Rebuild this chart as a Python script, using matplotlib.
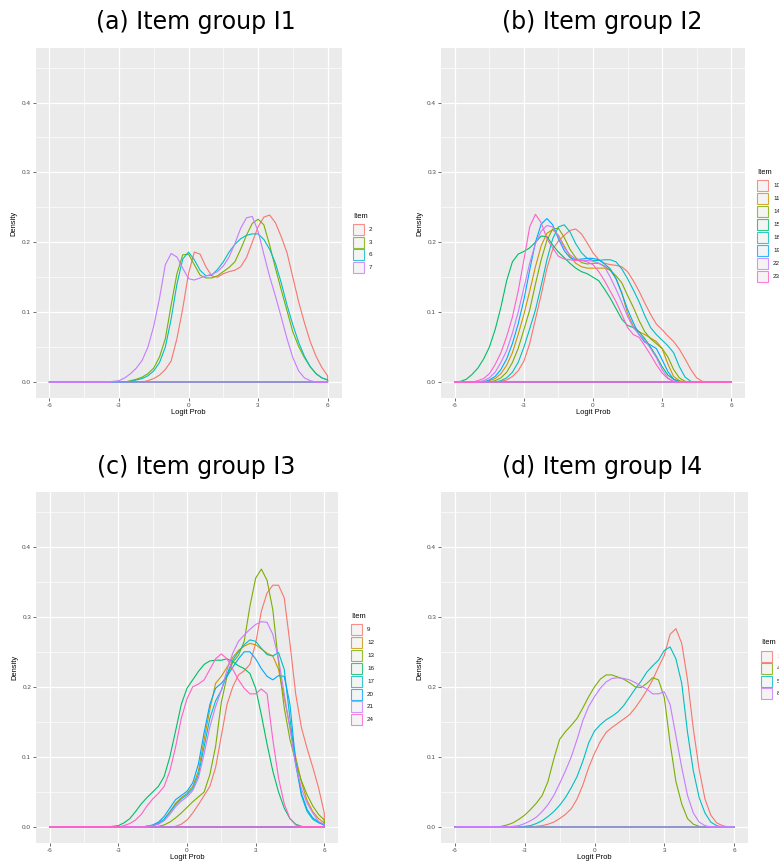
import numpy as np
import matplotlib.pyplot as plt
from matplotlib.patches import Rectangle

W, H = 779, 865
STEP = 0.25

# ---- panel (a): items 2, 3, 6, 7  (start x, densities every 0.25)
a_item2 = (-2.0, [0.0, 0.002, 0.005, 0.01, 0.018, 0.03, 0.062, 0.105, 0.155, 0.186, 0.183, 0.165,
                  0.152, 0.15, 0.155, 0.158, 0.16, 0.165, 0.178, 0.2, 0.222, 0.236, 0.239, 0.228,
                  0.208, 0.185, 0.15, 0.115, 0.085, 0.058, 0.037, 0.021, 0.009])
a_item3 = (-2.5, [0.002, 0.004, 0.007, 0.012, 0.02, 0.036, 0.062, 0.11, 0.155, 0.182, 0.183, 0.168,
                  0.153, 0.149, 0.149, 0.152, 0.158, 0.164, 0.172, 0.19, 0.21, 0.227, 0.233, 0.225,
                  0.196, 0.163, 0.132, 0.102, 0.072, 0.051, 0.035, 0.022, 0.012, 0.006, 0.003])
a_item6 = (-2.5, [0.001, 0.003, 0.005, 0.009, 0.016, 0.028, 0.05, 0.09, 0.14, 0.176, 0.186, 0.175,
                  0.16, 0.152, 0.153, 0.161, 0.172, 0.186, 0.197, 0.205, 0.21, 0.212, 0.212, 0.204,
                  0.19, 0.17, 0.142, 0.11, 0.082, 0.057, 0.037, 0.022, 0.012, 0.006, 0.003])
a_item7 = (-3.5, [0.0, 0.001, 0.002, 0.006, 0.012, 0.02, 0.031, 0.05, 0.08, 0.12, 0.168, 0.184,
                  0.179, 0.163, 0.148, 0.146, 0.149, 0.152, 0.154, 0.158, 0.166, 0.179, 0.198,
                  0.22, 0.235, 0.237, 0.216, 0.183, 0.151, 0.123, 0.093, 0.062, 0.035, 0.016,
                  0.006, 0.002, 0.0])
a_labels = ['2', '3', '6', '7']

# ---- panel (b): items 10, 11, 14, 15, 18, 19, 22, 23
b_item10 = (-4.0, [0.001, 0.003, 0.008, 0.016, 0.03, 0.055, 0.09, 0.125, 0.163, 0.19, 0.202, 0.21,
                   0.217, 0.219, 0.212, 0.199, 0.185, 0.175, 0.17, 0.168, 0.167, 0.165, 0.158,
                   0.145, 0.13, 0.113, 0.097, 0.083, 0.075, 0.066, 0.058, 0.047, 0.033, 0.018,
                   0.006, 0.001])
b_item11 = (-4.5, [0.002, 0.005, 0.012, 0.024, 0.042, 0.068, 0.097, 0.13, 0.165, 0.195, 0.213,
                   0.218, 0.21, 0.195, 0.18, 0.17, 0.165, 0.163, 0.163, 0.163, 0.163, 0.16, 0.148,
                   0.128, 0.098, 0.08, 0.072, 0.068, 0.063, 0.058, 0.048, 0.026, 0.008, 0.002])
b_item14 = (-4.25, [0.002, 0.006, 0.014, 0.028, 0.048, 0.075, 0.103, 0.14, 0.175, 0.203, 0.219,
                    0.22, 0.207, 0.19, 0.178, 0.171, 0.169, 0.17, 0.17, 0.166, 0.16, 0.152, 0.142,
                    0.124, 0.107, 0.088, 0.072, 0.062, 0.055, 0.048, 0.036, 0.018, 0.006, 0.001])
b_item15 = (-5.75, [0.001, 0.004, 0.011, 0.02, 0.033, 0.05, 0.075, 0.107, 0.145, 0.172, 0.183,
                    0.187, 0.192, 0.2, 0.209, 0.208, 0.196, 0.186, 0.178, 0.17, 0.163, 0.158,
                    0.155, 0.15, 0.145, 0.133, 0.12, 0.105, 0.09, 0.081, 0.078, 0.072, 0.062,
                    0.05, 0.037, 0.022, 0.01, 0.004, 0.001])
b_item18 = (-4.0, [0.002, 0.006, 0.014, 0.028, 0.05, 0.076, 0.103, 0.138, 0.175, 0.205, 0.222,
                   0.225, 0.215, 0.198, 0.185, 0.177, 0.174, 0.174, 0.175, 0.175, 0.172, 0.162,
                   0.148, 0.132, 0.115, 0.095, 0.078, 0.068, 0.06, 0.052, 0.042, 0.022, 0.007,
                   0.001])
b_item19 = (-4.5, [0.003, 0.008, 0.018, 0.033, 0.055, 0.083, 0.118, 0.16, 0.2, 0.226, 0.234,
                   0.225, 0.205, 0.188, 0.178, 0.175, 0.176, 0.177, 0.177, 0.175, 0.169, 0.162,
                   0.148, 0.127, 0.104, 0.085, 0.068, 0.057, 0.053, 0.048, 0.032, 0.015, 0.004])
b_item22 = (-4.75, [0.002, 0.006, 0.014, 0.028, 0.045, 0.07, 0.1, 0.135, 0.17, 0.198, 0.216,
                    0.224, 0.222, 0.208, 0.192, 0.182, 0.176, 0.174, 0.174, 0.173, 0.17, 0.165,
                    0.15, 0.133, 0.114, 0.094, 0.078, 0.068, 0.06, 0.048, 0.035, 0.018, 0.006,
                    0.001])
b_item23 = (-5.0, [0.002, 0.005, 0.012, 0.025, 0.042, 0.065, 0.093, 0.13, 0.175, 0.222, 0.24,
                   0.228, 0.205, 0.192, 0.18, 0.176, 0.175, 0.174, 0.174, 0.172, 0.168, 0.158,
                   0.145, 0.13, 0.115, 0.097, 0.078, 0.068, 0.064, 0.052, 0.039, 0.025, 0.013,
                   0.005, 0.001])
b_labels = ['10', '11', '14', '15', '18', '19', '22', '23']

# ---- panel (c): items 9, 12, 13, 16, 17, 20, 21, 24
c_item9 = (-0.75, [0.0, 0.001, 0.004, 0.01, 0.02, 0.032, 0.045, 0.058, 0.085, 0.13, 0.175, 0.2,
                   0.217, 0.223, 0.232, 0.262, 0.308, 0.334, 0.345, 0.345, 0.327, 0.262, 0.19,
                   0.142, 0.112, 0.085, 0.056, 0.02])
c_item12 = (-1.75, [0.001, 0.002, 0.005, 0.011, 0.022, 0.034, 0.042, 0.048, 0.058, 0.08, 0.125,
                    0.168, 0.205, 0.215, 0.228, 0.242, 0.252, 0.258, 0.262, 0.26, 0.254, 0.248,
                    0.244, 0.225, 0.184, 0.143, 0.1, 0.064, 0.038, 0.022, 0.012, 0.006])
c_item13 = (-1.25, [0.001, 0.003, 0.007, 0.013, 0.02, 0.028, 0.036, 0.043, 0.05, 0.075, 0.115,
                    0.178, 0.215, 0.235, 0.245, 0.265, 0.315, 0.355, 0.368, 0.352, 0.31, 0.235,
                    0.17, 0.125, 0.093, 0.066, 0.046, 0.03, 0.018, 0.01])
c_item16 = (-3.25, [0.001, 0.002, 0.006, 0.012, 0.022, 0.033, 0.042, 0.05, 0.058, 0.072, 0.1,
                    0.137, 0.175, 0.198, 0.21, 0.222, 0.232, 0.237, 0.238, 0.238, 0.24, 0.236,
                    0.23, 0.226, 0.219, 0.198, 0.16, 0.118, 0.08, 0.05, 0.027, 0.012, 0.004,
                    0.001])
c_item17 = (-1.75, [0.001, 0.002, 0.005, 0.011, 0.021, 0.032, 0.04, 0.046, 0.055, 0.075, 0.115,
                    0.155, 0.18, 0.195, 0.218, 0.238, 0.25, 0.26, 0.267, 0.265, 0.255, 0.246,
                    0.244, 0.249, 0.225, 0.155, 0.09, 0.045, 0.022, 0.011, 0.006, 0.003])
c_item20 = (-1.75, [0.001, 0.003, 0.007, 0.015, 0.027, 0.039, 0.045, 0.051, 0.063, 0.09, 0.135,
                    0.175, 0.198, 0.205, 0.215, 0.228, 0.24, 0.25, 0.25, 0.24, 0.226, 0.215,
                    0.21, 0.216, 0.215, 0.175, 0.093, 0.048, 0.025, 0.013, 0.007, 0.003])
c_item21 = (-1.75, [0.001, 0.002, 0.004, 0.009, 0.018, 0.029, 0.037, 0.043, 0.052, 0.07, 0.105,
                    0.143, 0.172, 0.195, 0.224, 0.248, 0.265, 0.274, 0.282, 0.289, 0.293, 0.292,
                    0.275, 0.24, 0.19, 0.14, 0.088, 0.055, 0.034, 0.02, 0.008, 0.004])
c_item24 = (-2.75, [0.002, 0.005, 0.01, 0.018, 0.03, 0.04, 0.048, 0.058, 0.08, 0.114, 0.155,
                    0.183, 0.2, 0.204, 0.21, 0.225, 0.24, 0.247, 0.24, 0.225, 0.21, 0.198, 0.19,
                    0.19, 0.197, 0.19, 0.125, 0.07, 0.033, 0.012, 0.003])
c_labels = ['9', '12', '13', '16', '17', '20', '21', '24']

# ---- panel (d): items 1, 4, 5, 8
d_item1 = (-2.5, [0.001, 0.002, 0.004, 0.007, 0.012, 0.018, 0.026, 0.04, 0.06, 0.085, 0.105,
                  0.122, 0.135, 0.142, 0.148, 0.154, 0.16, 0.17, 0.182, 0.195, 0.21, 0.228,
                  0.245, 0.275, 0.283, 0.262, 0.21, 0.14, 0.082, 0.04, 0.017, 0.006, 0.002])
d_item4 = (-4.0, [0.001, 0.003, 0.006, 0.011, 0.017, 0.025, 0.034, 0.045, 0.065, 0.097, 0.125,
                  0.136, 0.145, 0.155, 0.17, 0.186, 0.2, 0.211, 0.217, 0.217, 0.214, 0.211, 0.206,
                  0.2, 0.199, 0.205, 0.213, 0.21, 0.185, 0.12, 0.065, 0.033, 0.012, 0.004, 0.001])
d_item5 = (-3.0, [0.001, 0.002, 0.005, 0.009, 0.015, 0.022, 0.031, 0.042, 0.056, 0.072, 0.094,
                  0.12, 0.137, 0.146, 0.153, 0.158, 0.164, 0.173, 0.185, 0.197, 0.208, 0.221,
                  0.23, 0.238, 0.252, 0.257, 0.24, 0.205, 0.135, 0.08, 0.042, 0.02, 0.007, 0.002])
d_item8 = (-3.5, [0.001, 0.002, 0.005, 0.009, 0.014, 0.022, 0.032, 0.045, 0.062, 0.08, 0.1,
                  0.125, 0.152, 0.172, 0.186, 0.198, 0.207, 0.212, 0.213, 0.212, 0.21, 0.206,
                  0.201, 0.197, 0.19, 0.19, 0.193, 0.175, 0.13, 0.085, 0.045, 0.02, 0.007, 0.002])
d_labels = ['1', '4', '5', '8']

x_ticks = [-6, -3, 0, 3, 6]
y_ticks = [0.0, 0.1, 0.2, 0.3, 0.4]

hue4 = ['#F8766D', '#7CAE00', '#00BFC4', '#C77CFF']
hue8 = ['#F8766D', '#CD9600', '#7CAE00', '#00BE67', '#00BFC4', '#00A9FF', '#C77CFF', '#FF61CC']

FONT = ['Liberation Sans', 'DejaVu Sans']


def full_curve(curve):
    start, vals = curve
    grid = np.arange(-6, 6 + STEP / 2, STEP)
    y = np.zeros_like(grid)
    i0 = int(round((start + 6) / STEP))
    y[i0:i0 + len(vals)] = vals
    # close along the baseline like geom_density's outline
    return np.r_[grid, 6, -6], np.r_[y, 0, 0]


def rect(l, t, r, b):
    return [l / W, 1 - b / H, (r - l) / W, (b - t) / H]


def draw_panel(box, curves, colors, labels, title, title_xy, leg_xy, pitch):
    ax = fig.add_axes(rect(*box))
    ax.set_facecolor('#EBEBEB')
    for c, col in zip(curves, colors):
        xs, ys = full_curve(c)
        ax.plot(xs, ys, color=col, lw=0.8, solid_joinstyle='round')
    ax.set_xlim(-6.6, 6.6)
    ax.set_ylim(-0.0228, 0.478)
    ax.set_xticks(x_ticks)
    ax.set_xticklabels([str(v) for v in x_ticks])
    ax.set_yticks(y_ticks)
    ax.set_yticklabels(['%.1f' % v for v in y_ticks])
    ax.set_xticks([-4.5, -1.5, 1.5, 4.5], minor=True)
    ax.set_yticks([0.05, 0.15, 0.25, 0.35, 0.45], minor=True)
    ax.grid(which='major', color='white', lw=0.9)
    ax.grid(which='minor', color='white', lw=0.45)
    ax.set_axisbelow(True)
    for s in ax.spines.values():
        s.set_visible(False)
    ax.tick_params(which='major', length=2, width=0.5, color='#333333', pad=1.5,
                   labelsize=4.6, labelcolor='#4D4D4D')
    ax.tick_params(which='minor', length=0)
    for lab in ax.get_xticklabels() + ax.get_yticklabels():
        lab.set_family(FONT)
    ax.set_xlabel('Logit Prob', fontsize=5.4, family=FONT, labelpad=1)
    ax.set_ylabel('Density', fontsize=5.4, family=FONT, labelpad=3)

    fig.text(title_xy[0] / W, 1 - title_xy[1] / H, title, fontsize=17,
             ha='center', va='center')

    lx, ly = leg_xy
    fig.text(lx / W, 1 - ly / H, 'Item', fontsize=5.4, family=FONT, ha='left', va='center')
    for i, (col, lab) in enumerate(zip(colors, labels)):
        top = ly + 8 + i * pitch
        fig.add_artist(Rectangle((lx / W, 1 - (top + 11) / H), 11 / W, 11 / H,
                                 transform=fig.transFigure, facecolor='#F2F2F2',
                                 edgecolor=col, lw=0.8, alpha=0.8))
        fig.text((lx + 16) / W, 1 - (top + 5.5) / H, lab, fontsize=4.5, family=FONT,
                 ha='left', va='center', color='#1A1A1A')


fig = plt.figure(figsize=(W / 100, H / 100), dpi=100)
fig.patch.set_facecolor('white')

draw_panel((35.5, 48, 341.5, 398), [a_item2, a_item3, a_item6, a_item7], hue4, a_labels,
           '(a) Item group I1', (196, 22), (353, 216), 12.7)
draw_panel((441, 48, 745, 398),
           [b_item10, b_item11, b_item14, b_item15, b_item18, b_item19, b_item22, b_item23],
           hue8, b_labels, '(b) Item group I2', (602, 22), (757, 172), 13)
draw_panel((36, 492, 338, 843),
           [c_item9, c_item12, c_item13, c_item16, c_item17, c_item20, c_item21, c_item24],
           hue8, c_labels, '(c) Item group I3', (196, 467), (351, 616), 12.9)
draw_panel((441, 492, 748, 843), [d_item1, d_item4, d_item5, d_item8], hue4, d_labels,
           '(d) Item group I4', (602, 467), (761, 643), 12.3)

fig.savefig('out.png', dpi=100)
